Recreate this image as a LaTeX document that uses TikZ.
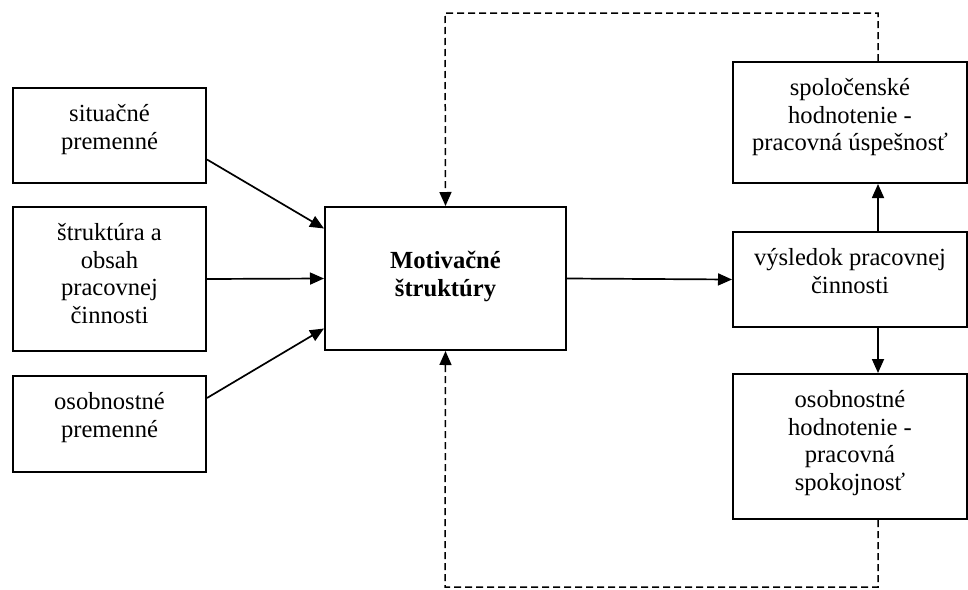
\documentclass[tikz,border=0pt]{standalone}
\usepackage{fontspec}
\setmainfont{Liberation Serif}
\usetikzlibrary{positioning,arrows.meta}

\begin{document}
\begin{tikzpicture}[x=1pt,y=-1pt,
  box/.style={draw,line width=2pt,inner sep=0pt,anchor=north west},
  txt/.style={align=center,inner sep=0pt,font=\fontsize{24.6}{27.8}\selectfont},
  arr/.style={line width=1.7pt,-{Triangle[length=14pt,width=12pt]}},
  fb/.style={line width=1.5pt,dash pattern=on 7pt off 4pt,-{Triangle[length=14pt,width=12pt]}}]
  \useasboundingbox (0,0) rectangle (968,589);
  % vstupy
  \node[box,minimum width=193pt,minimum height=95pt] (sit) at (12,87) {};
  \node[txt,below=17pt of sit.north] (sitt) {situačné\\premenné};
  \node[box,minimum width=193pt,minimum height=144pt] (str) at (12,206) {};
  \node[txt,below=17pt of str.north] (strt) {štruktúra a\\obsah\\pracovnej\\činnosti};
  \node[box,minimum width=193pt,minimum height=96pt] (oso) at (12,375) {};
  \node[txt,below=17pt of oso.north] (osot) {osobnostné\\premenné};
  % stred
  \node[box,minimum width=241pt,minimum height=143pt] (mot) at (324,206) {};
  \node[txt,font=\fontsize{24.6}{27.8}\selectfont\bfseries,below=45pt of mot.north] (mott) {Motivačné\\štruktúry};
  % vystupy
  \node[box,minimum width=234pt,minimum height=121pt] (spol) at (732,61) {};
  \node[txt,below=17pt of spol.north] (spolt) {spoločenské\\hodnotenie -\\pracovná úspešnosť};
  \node[box,minimum width=234pt,minimum height=95pt] (vys) at (732,231) {};
  \node[txt,below=17pt of vys.north] (vyst) {výsledok pracovnej\\činnosti};
  \node[box,minimum width=234pt,minimum height=145pt] (osh) at (732,373) {};
  \node[txt,below=17pt of osh.north] (osht) {osobnostné\\hodnotenie -\\pracovná\\spokojnosť};
  \coordinate (hore) at (445,13);
  \coordinate (dole) at (445,587);
  % sipky
  \draw[arr] ([yshift=-24pt]sit.east) -- ([yshift=50pt]mot.west);
  \draw[arr] (str.east) -- (mot.west);
  \draw[arr] ([yshift=26pt]oso.east) -- ([yshift=-50pt]mot.west);
  \draw[arr] (mot.east) -- (vys.west);
  \draw[arr] ([xshift=28pt]vys.north) -- ([xshift=28pt]spol.south);
  \draw[arr] ([xshift=28pt]vys.south) -- ([xshift=28pt]osh.north);
  % spatna vazba
  \draw[fb] ([xshift=28pt]spol.north) |- (hore) -- (mot.north);
  \draw[fb] ([xshift=28pt]osh.south) |- (dole) -- (mot.south);
\end{tikzpicture}
\end{document}
